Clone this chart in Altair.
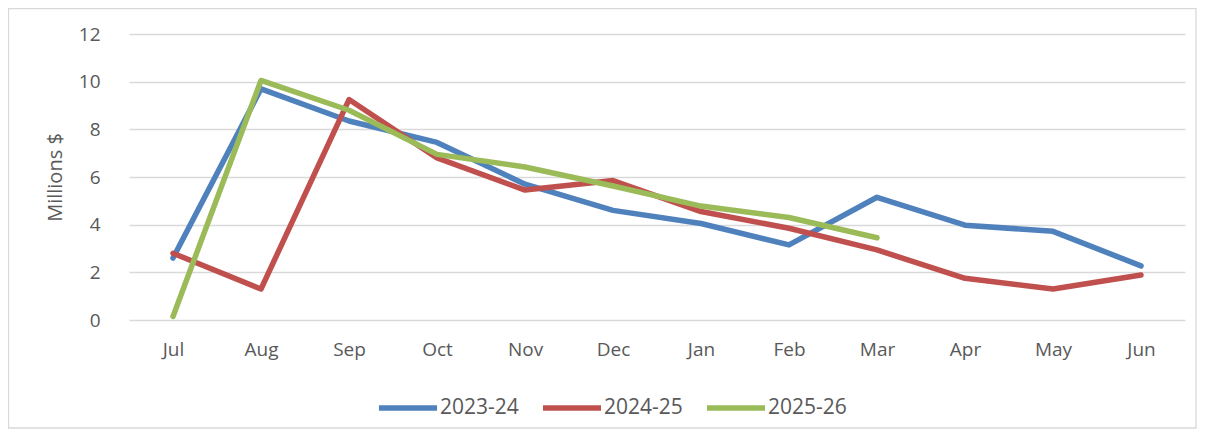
import altair as alt
import pandas as pd

months = ["Jul", "Aug", "Sep", "Oct", "Nov", "Dec", "Jan", "Feb", "Mar", "Apr", "May", "Jun"]
s_2023_24 = [2.6, 9.7, 8.35, 7.45, 5.7, 4.6, 4.05, 3.15, 5.15, 3.98, 3.72, 2.27]
s_2024_25 = [2.8, 1.3, 9.25, 6.8, 5.45, 5.85, 4.55, 3.85, 2.94, 1.75, 1.3, 1.89]
s_2025_26 = [0.15, 10.05, 8.8, 6.95, 6.42, 5.62, 4.78, 4.3, 3.45]
series_names = ["2023-24", "2024-25", "2025-26"]
colors = ["#4F81BD", "#C0504D", "#9BBB59"]

rows = []
for name, vals in zip(series_names, [s_2023_24, s_2024_25, s_2025_26]):
    for i, v in enumerate(vals):
        rows.append({"Month": months[i], "Value": v, "Series": name, "order": i})
df = pd.DataFrame(rows)

FONT = "Open Sans"
TXT = "#595959"

lines = alt.Chart(df).mark_line(
    strokeWidth=5.5, strokeCap="round", strokeJoin="round"
).encode(
    x=alt.X("Month:N", sort=months,
            scale=alt.Scale(type="point", domain=months, padding=0.5),
            axis=alt.Axis(title=None, labelAngle=0, ticks=False, grid=False,
                          domain=False, labelPadding=20,
                          labelFont=FONT, labelFontSize=19, labelColor=TXT)),
    y=alt.Y("Value:Q",
            scale=alt.Scale(domain=[0, 12], nice=False),
            axis=alt.Axis(title="Millions $", values=[0, 2, 4, 6, 8, 10, 12],
                          ticks=False, domain=False, grid=True,
                          gridColor="#D9D9D9", gridWidth=1.3,
                          labelPadding=29, labelFont=FONT, labelFontSize=19,
                          labelColor=TXT, titleFont=FONT, titleFontSize=20,
                          titleFontWeight="normal", titleColor=TXT,
                          titlePadding=13)),
    color=alt.Color("Series:N", sort=series_names,
                    scale=alt.Scale(domain=series_names, range=colors),
                    legend=alt.Legend(title=None, orient="none", direction="horizontal",
                                      legendX=247, legendY=342,
                                      symbolType="stroke", symbolSize=3364,
                                      symbolStrokeWidth=5.5,
                                      labelFont=FONT, labelFontSize=21,
                                      labelColor=TXT, labelOffset=0,
                                      columnPadding=13)),
    order="order:Q",
)

border = alt.Chart(pd.DataFrame({"a": [0]})).mark_rect(
    fill=None, stroke="#D9D9D9", strokeWidth=1.3, clip=False
).encode(
    x=alt.value(-120.5), x2=alt.value(1067), y=alt.value(-25.5), y2=alt.value(394)
)

chart = alt.layer(border, lines).properties(
    width=1056, height=286,
    autosize=alt.AutoSizeParams(type="none"),
    padding={"left": 121, "top": 26, "right": 12, "bottom": 109},
    background="white",
).configure_view(stroke=None)

chart.save("out.html", embed_options={"renderer": "svg", "actions": False})
